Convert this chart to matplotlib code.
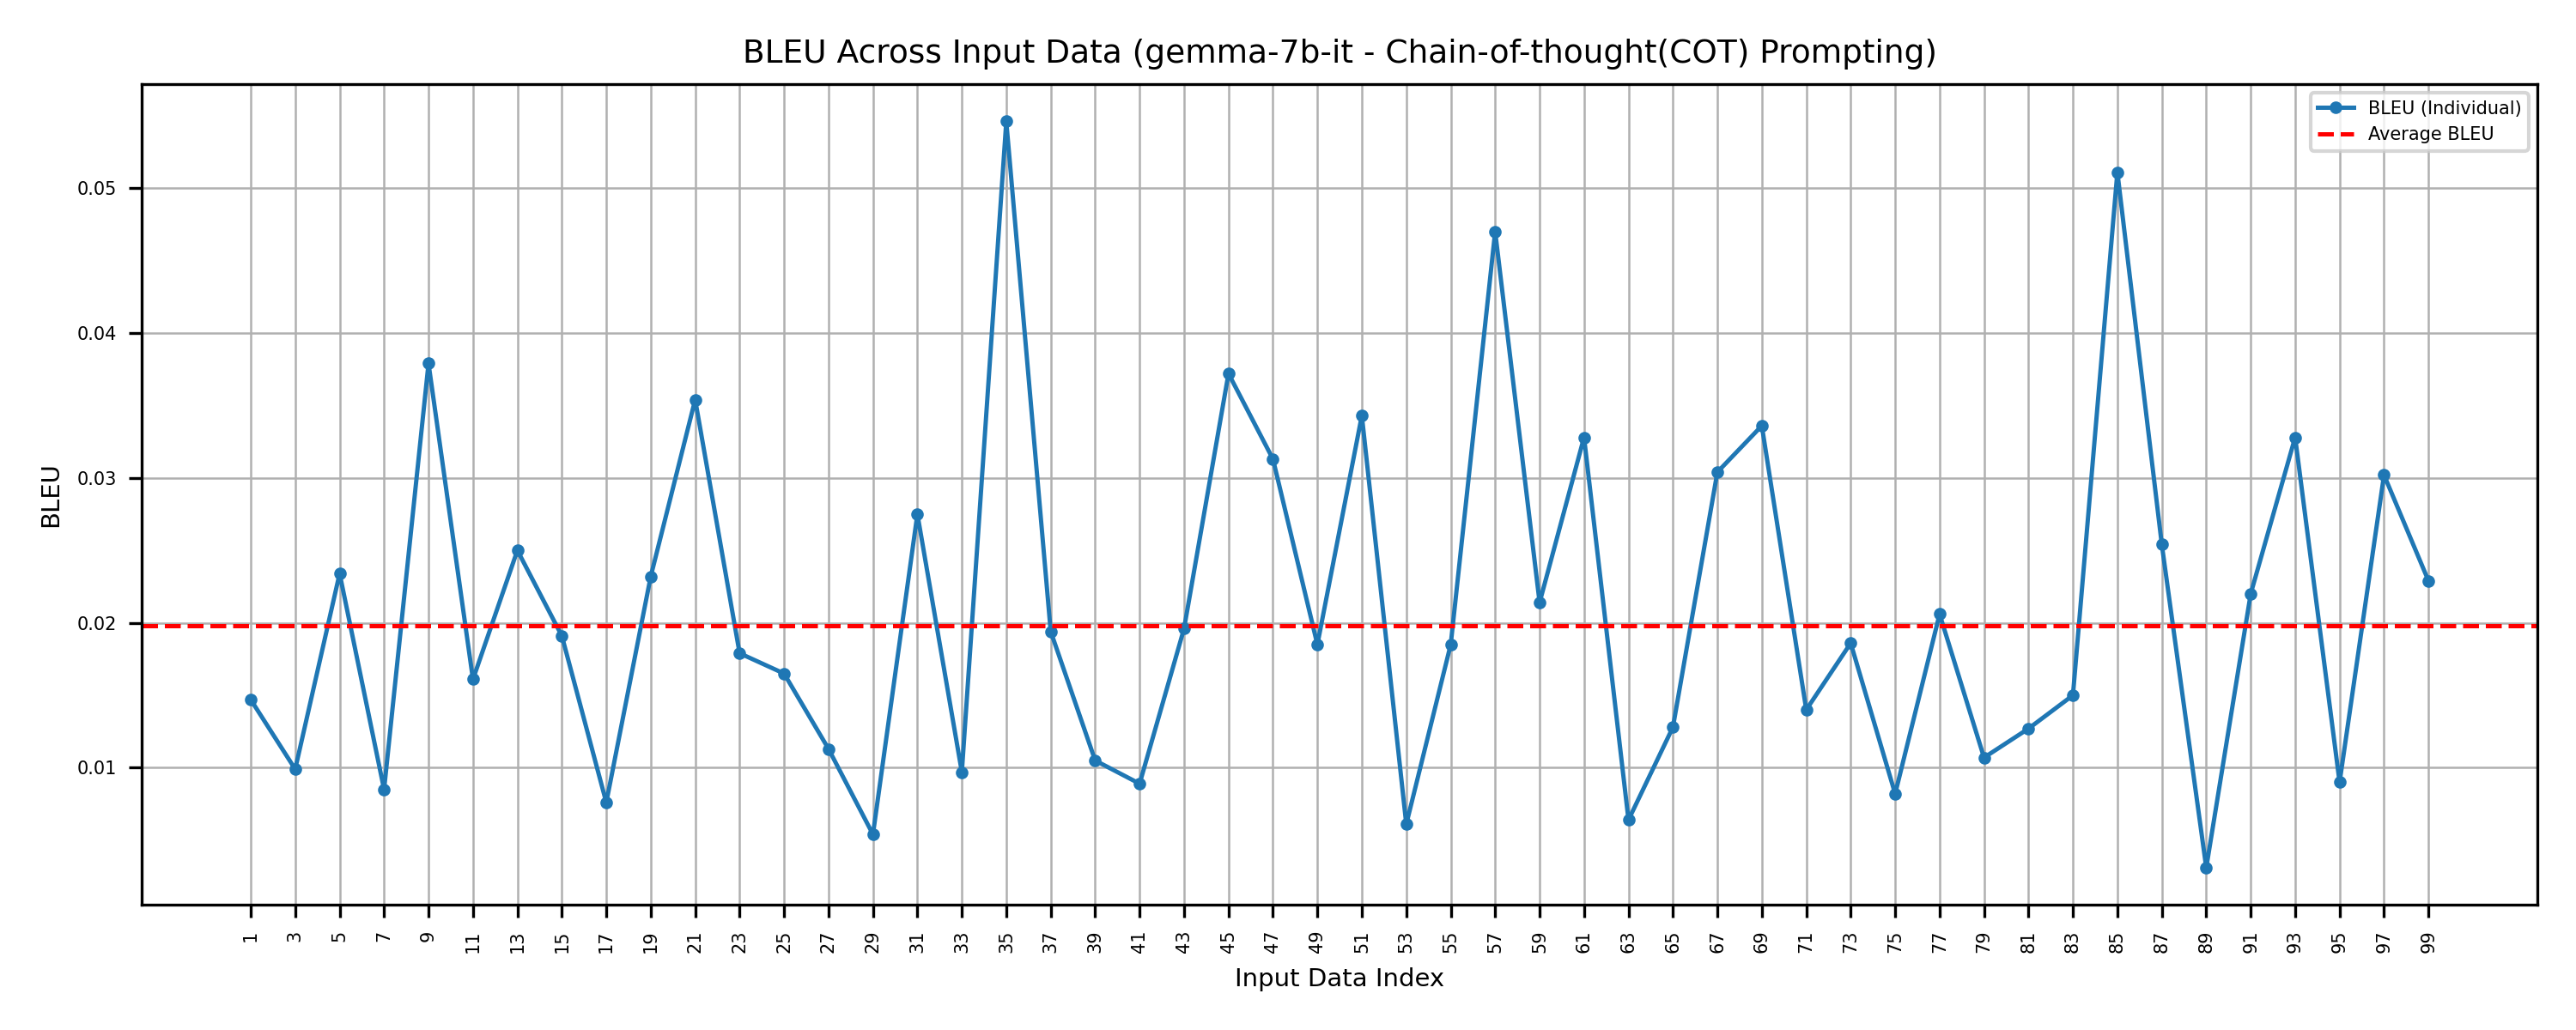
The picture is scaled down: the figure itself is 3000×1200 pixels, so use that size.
import matplotlib
matplotlib.use("Agg")
import matplotlib.pyplot as plt

indices = list(range(1, 100, 2))
bleu = [0.0147, 0.0099, 0.0234, 0.0085, 0.0379, 0.0161, 0.0250, 0.0191, 0.0076, 0.0232,
        0.0354, 0.0179, 0.0165, 0.0113, 0.0054, 0.0275, 0.0097, 0.0546, 0.0194, 0.0105,
        0.0089, 0.0196, 0.0372, 0.0313, 0.0185, 0.0343, 0.0061, 0.0185, 0.0470, 0.0214,
        0.0328, 0.0064, 0.0128, 0.0304, 0.0336, 0.0140, 0.0186, 0.0082, 0.0206, 0.0107,
        0.0127, 0.0150, 0.0511, 0.0254, 0.0031, 0.0220, 0.0328, 0.0090, 0.0302, 0.0229]
avg_bleu = 0.0198

fig, ax = plt.subplots(figsize=(10, 4), dpi=300)
ax.plot(indices, bleu, marker="o", markersize=2.5, linewidth=1.2, color="#1f77b4",
        label="BLEU (Individual)")
ax.axhline(avg_bleu, color="red", linestyle="--", linewidth=1.2, label="Average BLEU")
ax.set_xticks(indices)
ax.set_xticklabels([str(i) for i in indices], rotation=90, fontsize=5)
ax.tick_params(axis="y", labelsize=5)
ax.set_yticks([0.01, 0.02, 0.03, 0.04, 0.05])
ax.set_xlabel("Input Data Index", fontsize=7)
ax.set_ylabel("BLEU", fontsize=7)
ax.set_title("BLEU Across Input Data (gemma-7b-it - Chain-of-thought(COT) Prompting)", fontsize=9)
ax.grid(True, linewidth=0.6)
ax.legend(fontsize=5, loc="upper right")
plt.tight_layout()
plt.savefig("out.png", dpi=300)
